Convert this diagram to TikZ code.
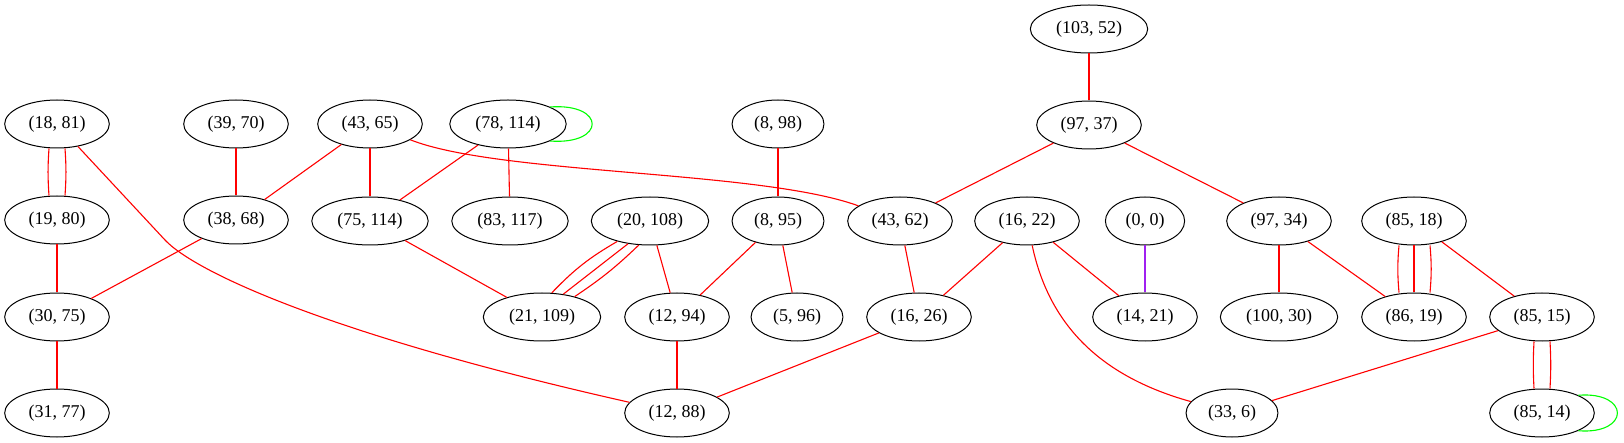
\documentclass[tikz,border=0pt]{standalone}
\usepackage{fontspec}
\setmainfont{Liberation Serif}
\usepackage{xcolor}
\usepackage{tikz}
\usetikzlibrary{shapes.geometric}

\definecolor{gvpurple}{HTML}{A020F0}

\begin{document}
\begin{tikzpicture}[x=1pt,y=-1pt,
  vertex/.style={draw,ellipse,line width=1pt,inner xsep=8.5pt,inner ysep=2pt,
    minimum height=48pt,font=\fontsize{18}{22}\selectfont},
  link/.style={red,line width=1.1pt},
  selfloop/.style={green,line width=1.1pt}]

\useasboundingbox (0,0) rectangle (1624,443);

% row 0
\node[vertex] (n10352) at (1089,29) {(103, 52)};

% row 1
\node[vertex] (n1881) at (57,124) {(18, 81)};
\node[vertex] (n3970) at (236,124) {(39, 70)};
\node[vertex] (n4365) at (370,124) {(43, 65)};
\node[vertex] (n78114) at (508,124) {(78, 114)};
\node[vertex] (n898) at (778,124) {(8, 98)};
\node[vertex] (n9737) at (1089,125) {(97, 37)};

% row 2
\node[vertex] (n1980) at (57,220) {(19, 80)};
\node[vertex] (n3868) at (236,220) {(38, 68)};
\node[vertex] (n75114) at (370,221) {(75, 114)};
\node[vertex] (n83117) at (510,221) {(83, 117)};
\node[vertex] (n20108) at (650,221) {(20, 108)};
\node[vertex] (n895) at (778,221) {(8, 95)};
\node[vertex] (n4362) at (900,221) {(43, 62)};
\node[vertex] (n1622) at (1027,221) {(16, 22)};
\node[vertex] (n00) at (1145,221) {(0, 0)};
\node[vertex] (n9734) at (1279,221) {(97, 34)};
\node[vertex] (n8518) at (1414,221) {(85, 18)};

% row 3
\node[vertex] (n3075) at (57,317) {(30, 75)};
\node[vertex] (n21109) at (542,317) {(21, 109)};
\node[vertex] (n1294) at (677,317) {(12, 94)};
\node[vertex] (n596) at (797,317) {(5, 96)};
\node[vertex] (n1626) at (919,317) {(16, 26)};
\node[vertex] (n1421) at (1145,317) {(14, 21)};
\node[vertex] (n10030) at (1279,317) {(100, 30)};
\node[vertex] (n8619) at (1414,317) {(86, 19)};
\node[vertex] (n8515) at (1542,317) {(85, 15)};

% row 4
\node[vertex] (n3177) at (57,413) {(31, 77)};
\node[vertex] (n1288) at (677,413) {(12, 88)};
\node[vertex] (n336) at (1232,413) {(33, 6)};
\node[vertex] (n8514) at (1542,413) {(85, 14)};

% edges
\draw[link] ([xshift=-8]n1881.south) to[bend right=4] ([xshift=-8]n1980.north);
\draw[link] ([xshift=8]n1881.south) to[bend left=4] ([xshift=8]n1980.north);
\draw[link] (n1881) -- (165,240) .. controls (195,272) and (330,335) .. (n1288);
\draw[link] (n1980) -- (n3075);
\draw[link] (n3075) -- (n3177);
\draw[link] (n3970) -- (n3868);
\draw[link] (n3868) -- (n3075);
\draw[link] (n4365) -- (n3868);
\draw[link] (n4365) -- (n75114);
\draw[link] (n4365) .. controls (500,175) and (760,170) .. (n4362);
\draw[link] (n78114) -- (n75114);
\draw[link] (n78114) -- (n83117);
\draw[selfloop] (n78114.22) .. controls +(56,-4) and +(56,4) .. (n78114.-22);
\draw[link] (n75114) -- (n21109);
\draw[link] (n20108.212) to[bend right=8] (n21109.68);
\draw[link] (n20108.226) -- (n21109.47);
\draw[link] (n20108.245) to[bend left=5] (n21109.32);
\draw[link] (n20108) -- (n1294);
\draw[link] (n898) -- (n895);
\draw[link] (n895) -- (n1294);
\draw[link] (n895) -- (n596);
\draw[link] (n1294) -- (n1288);
\draw[link] (n1626) -- (n1288);
\draw[link] (n10352) -- (n9737);
\draw[link] (n9737) -- (n4362);
\draw[link] (n9737) -- (n9734);
\draw[link] (n4362) -- (n1626);
\draw[link] (n1622) -- (n1626);
\draw[link] (n1622) -- (n1421);
\draw[link] (n1622) .. controls (1048,320) and (1095,375) .. (n336);
\draw[gvpurple,line width=1.1pt] (n00) -- (n1421);
\draw[link] (n9734) -- (n10030);
\draw[link] (n9734) -- (n8619);
\draw[link] ([xshift=-15]n8518.south) to[bend right=5] ([xshift=-15]n8619.north);
\draw[link] (n8518) -- (n8619);
\draw[link] ([xshift=16]n8518.south) to[bend left=5] ([xshift=16]n8619.north);
\draw[link] (n8518) -- (n8515);
\draw[link] (n8515) -- (n336);
\draw[link] ([xshift=-8]n8515.south) to[bend right=3] ([xshift=-8]n8514.north);
\draw[link] ([xshift=8]n8515.south) to[bend left=3] ([xshift=8]n8514.north);
\draw[selfloop] (n8514.26) .. controls +(52,-4) and +(52,4) .. (n8514.-26);

\end{tikzpicture}
\end{document}
